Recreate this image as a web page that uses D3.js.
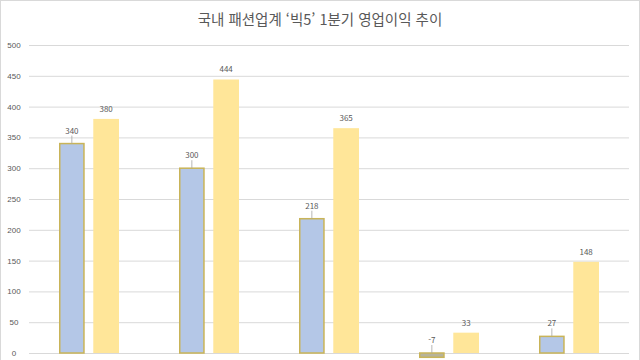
<!DOCTYPE html>
<html lang="ko">
<head>
<meta charset="utf-8">
<title>국내 패션업계 빅5 1분기 영업이익</title>
<script src="https://d3js.org/d3.v7.min.js"></script>
<style>
  body { margin: 0; background: #fff; }
  svg { display: block; font-family: "Noto Sans CJK KR", "Noto Sans", sans-serif; }
</style>
</head>
<body>
<div id="chart"></div>
<script>
// data (category labels fall below the cropped edge)
var companies = ["A", "B", "C", "D", "E"];
var prevYear = [340, 300, 218, -7, 27];
var thisYear = [380, 444, 365, 33, 148];
var yTicks = [0, 50, 100, 150, 200, 250, 300, 350, 400, 450, 500];

var W = 640, H = 360;
var margin = {top: 45, right: 11, bottom: 7, left: 29};
var width = W - margin.left - margin.right,
    height = H - margin.top - margin.bottom;

var svg = d3.select("#chart").append("svg")
    .attr("width", W)
    .attr("height", H);

// chart frame
svg.append("rect")
    .attr("x", 0.5).attr("y", 0.5)
    .attr("width", W - 1).attr("height", H + 5)
    .attr("fill", "#fff")
    .attr("stroke", "#d9d9d9");

svg.append("text")
    .attr("x", W / 2)
    .attr("y", 25)
    .attr("text-anchor", "middle")
    .attr("fill", "#595959")
    .attr("font-size", 14.5)
    .text("국내 패션업계 ‘빅5’ 1분기 영업이익 추이");

var g = svg.append("g")
    .attr("transform", "translate(" + margin.left + "," + margin.top + ")");

var y = d3.scaleLinear().domain([0, 500]).range([height, 0]);
var x = d3.scaleBand().domain(companies).range([0, width]).padding(0);
var sub = d3.scaleBand().domain(["prev", "this"]).range([30, 90]).paddingInner(0.25);

// gridlines + tick labels
var yAxis = g.append("g")
    .call(d3.axisLeft(y).tickValues(yTicks).tickSize(-width).tickPadding(10));
yAxis.select(".domain").remove();
yAxis.selectAll(".tick line").attr("stroke", "#d9d9d9");
yAxis.selectAll(".tick text")
    .attr("fill", "#595959")
    .attr("font-size", 8)
    .attr("text-anchor", "middle")
    .attr("x", -15);

var rows = companies.map(function(c, i) {
  return {name: c, prev: prevYear[i], cur: thisYear[i]};
});

// this-year bars (yellow)
g.selectAll(".bar-cur")
  .data(rows)
  .enter().append("rect")
    .attr("class", "bar-cur")
    .attr("x", function(d) { return x(d.name) + sub("this"); })
    .attr("width", sub.bandwidth())
    .attr("y", function(d) { return y(d.cur); })
    .attr("height", function(d) { return y(0) - y(d.cur); })
    .attr("fill", "#ffe699");

// previous-year bars (blue with gold outline)
g.selectAll(".bar-prev")
  .data(rows)
  .enter().append("rect")
    .attr("class", "bar-prev")
    .attr("x", function(d) { return x(d.name) + sub("prev") + 0.75; })
    .attr("width", sub.bandwidth() - 1.5)
    .attr("y", function(d) { return y(Math.max(0, d.prev)); })
    .attr("height", function(d) { return Math.abs(y(0) - y(d.prev)); })
    .attr("fill", function(d) { return d.prev < 0 ? "#b7b39a" : "#b4c7e7"; })
    .attr("stroke", "#c9b458")
    .attr("stroke-width", 1.5);

// labels for this-year bars
g.selectAll(".lbl-cur")
  .data(rows)
  .enter().append("text")
    .attr("x", function(d) { return x(d.name) + sub("this") + sub.bandwidth() / 2; })
    .attr("y", function(d) { return y(d.cur) - 7; })
    .attr("text-anchor", "middle")
    .attr("fill", "#595959")
    .attr("font-size", 8)
    .text(function(d) { return d.cur; });

// labels for previous-year bars, lifted with a small leader line
var topOf = function(d) { return y(Math.max(0, d.prev)); };
g.selectAll(".lead")
  .data(rows)
  .enter().append("line")
    .attr("x1", function(d) { return x(d.name) + sub("prev") + sub.bandwidth() / 2; })
    .attr("x2", function(d) { return x(d.name) + sub("prev") + sub.bandwidth() / 2; })
    .attr("y1", function(d) { return topOf(d) - 8; })
    .attr("y2", function(d) { return topOf(d); })
    .attr("stroke", "#a6a6a6")
    .attr("stroke-width", 0.8);

g.selectAll(".lbl-prev")
  .data(rows)
  .enter().append("text")
    .attr("x", function(d) { return x(d.name) + sub("prev") + sub.bandwidth() / 2; })
    .attr("y", function(d) { return topOf(d) - 10; })
    .attr("text-anchor", "middle")
    .attr("fill", "#595959")
    .attr("font-size", 8)
    .text(function(d) { return d.prev; });
</script>
</body>
</html>
